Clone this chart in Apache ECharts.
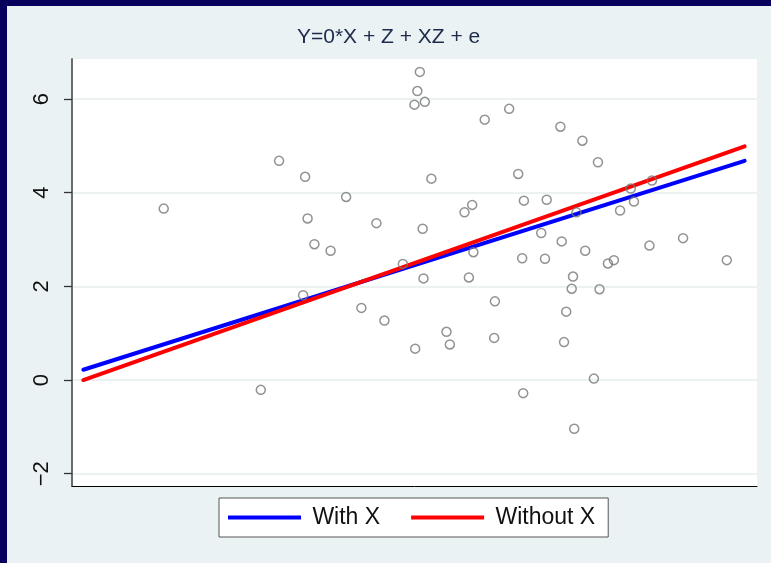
<!DOCTYPE html>
<html>
<head>
<meta charset="utf-8">
<script src="https://cdn.jsdelivr.net/npm/echarts@6/dist/echarts.min.js"></script>
<style>
  html, body { margin: 0; padding: 0; background: #eaf2f3; }
  #chart { width: 771px; height: 563px; }
</style>
</head>
<body>
<div id="chart"></div>
<script>
// Simulated sample: outcome vs. predictor (predictor on an arbitrary 0–100 scale)
const pointX = [
  13.39, 30.23, 34.03, 40.02, 34.39, 44.44, 35.39, 37.75, 48.30, 51.19,
  33.74, 42.25, 45.61, 50.10, 27.56, 50.78, 50.42, 49.99, 51.51, 60.25,
  63.82, 71.30, 74.51, 76.78, 52.46, 65.14, 84.66, 81.57, 82.04, 80.01,
  65.97, 69.30, 57.30, 58.42, 73.64, 68.50, 71.49, 89.21, 58.60, 74.92,
  84.30, 65.72, 69.05, 78.24, 79.11, 95.59, 51.31, 57.94, 73.14, 72.95,
  77.01, 61.74, 72.15, 54.67, 55.16, 61.63, 71.83, 76.19, 65.87, 73.32
];
const pointY = [
  3.66, 4.68, 4.34, 3.91, 3.45, 3.35, 2.90, 2.76, 2.48, 3.23,
  1.81, 1.54, 1.27, 0.67, -0.21, 6.58, 6.17, 5.88, 5.94, 5.56,
  5.79, 5.41, 5.11, 4.65, 4.30, 4.40, 4.26, 4.09, 3.81, 3.62,
  3.83, 3.85, 3.58, 3.74, 3.58, 3.14, 2.96, 3.03, 2.73, 2.76,
  2.87, 2.60, 2.59, 2.49, 2.56, 2.56, 2.17, 2.19, 2.21, 1.95,
  1.94, 1.68, 1.46, 1.03, 0.76, 0.90, 0.81, 0.03, -0.28, -1.04
];

// Fitted lines, evaluated at the two ends of the predictor range
const fitX = [1.65, 98.19];
const fitWithX = [0.22, 4.68];
const fitWithoutX = [0.00, 4.99];

// Y-axis tick values and their labels
const yTicks = [-2, 0, 2, 4, 6];
const yTickLabels = ['\u22122', '0', '2', '4', '6'];

const FONT = '"Liberation Sans", Arial, Helvetica, sans-serif';

const zip = (a, b) => a.map((v, i) => [v, b[i]]);

const chart = echarts.init(document.getElementById('chart'), null, { renderer: 'canvas' });

chart.setOption({
  backgroundColor: '#eaf2f3',
  animation: false,
  graphic: [
    // dark frame along the top and left edges
    { type: 'rect', left: 0, top: 0, shape: { width: 771, height: 6 }, style: { fill: '#07005c' }, silent: true },
    { type: 'rect', left: 0, top: 0, shape: { width: 7, height: 563 }, style: { fill: '#07005c' }, silent: true }
  ],
  title: {
    text: 'Y=0*X + Z + XZ + e',
    left: 297,
    top: 27,
    padding: 0,
    textStyle: { fontFamily: FONT, fontSize: 21, fontWeight: 'normal', color: '#1d2a4c' }
  },
  legend: {
    data: ['With X', 'Without X'],
    left: 219,
    top: 498,
    icon: 'rect',
    itemWidth: 73,
    itemHeight: 4,
    itemGap: 31,
    padding: [8, 13, 8, 9],
    backgroundColor: '#ffffff',
    borderColor: '#555555',
    borderWidth: 1,
    formatter: name => ' ' + name,
    textStyle: { fontFamily: FONT, fontSize: 23, color: '#111111' }
  },
  grid: {
    left: 72,
    right: 14,
    top: 59,
    bottom: 77,
    show: true,
    backgroundColor: '#ffffff',
    borderWidth: 0
  },
  xAxis: {
    type: 'value',
    min: 0,
    max: 100,
    axisLine: { show: true, onZero: false, lineStyle: { color: '#000000', width: 1 } },
    axisTick: { show: false },
    axisLabel: { show: false },
    splitLine: { show: false }
  },
  yAxis: {
    type: 'value',
    min: -2.263,
    max: 6.855,
    axisLine: { show: true, onZero: false, lineStyle: { color: '#6b6b6b', width: 2 } },
    axisTick: {
      show: true,
      customValues: yTicks,
      length: 8,
      lineStyle: { color: '#333333', width: 1.3 }
    },
    axisLabel: {
      show: true,
      customValues: yTicks,
      rotate: 90,
      margin: 19,
      fontFamily: FONT,
      fontSize: 22,
      color: '#111111',
      formatter: v => {
        const i = yTicks.indexOf(Math.round(v));
        return i >= 0 ? yTickLabels[i] : '';
      }
    },
    splitLine: { show: true, lineStyle: { color: '#e6eeee', width: 1.5 } }
  },
  series: [
    {
      name: 'With X',
      type: 'line',
      data: zip(fitX, fitWithX),
      symbol: 'none',
      color: '#0000ff',
      lineStyle: { color: '#0000ff', width: 4, cap: 'round' },
      z: 3
    },
    {
      name: 'Without X',
      type: 'line',
      data: zip(fitX, fitWithoutX),
      symbol: 'none',
      color: '#ff0000',
      lineStyle: { color: '#ff0000', width: 4, cap: 'round' },
      z: 4
    },
    {
      name: 'Y',
      type: 'scatter',
      data: zip(pointX, pointY),
      symbol: 'circle',
      symbolSize: 9,
      itemStyle: { color: 'rgba(255,255,255,0)', borderColor: '#777777', borderWidth: 1.5 },
      z: 5
    }
  ]
});
</script>
</body>
</html>
